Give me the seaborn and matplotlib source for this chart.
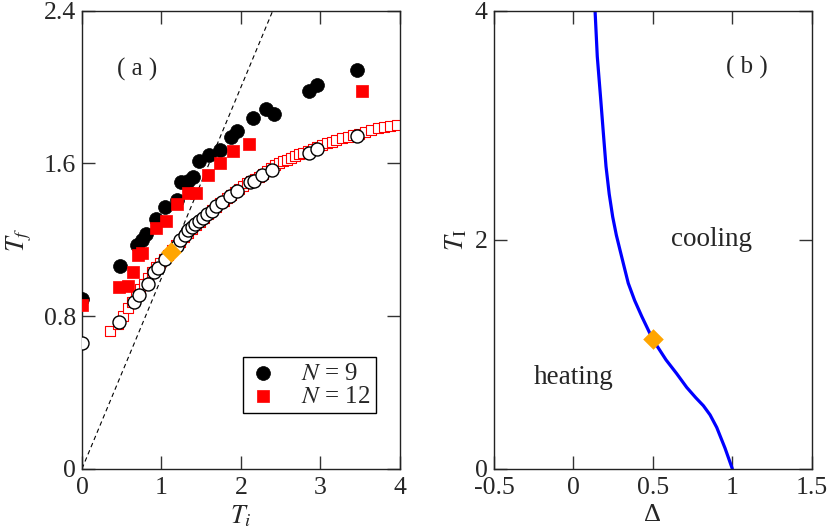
import matplotlib
matplotlib.use('Agg')
import matplotlib.pyplot as plt
import seaborn as sns

sns.set_theme(style='ticks')
plt.rcParams['font.family'] = ['Liberation Serif', 'DejaVu Serif']
plt.rcParams['mathtext.fontset'] = 'stix'
plt.rcParams['xtick.direction'] = 'in'
plt.rcParams['ytick.direction'] = 'in'
plt.rcParams['xtick.top'] = True
plt.rcParams['ytick.right'] = True
plt.rcParams['axes.linewidth'] = 1.0

# panel (a): final vs initial temperature
n9_ti = [0.0, 0.48, 0.69, 0.75, 0.81, 0.93, 1.04, 1.19, 1.25, 1.33, 1.40, 1.47, 1.60,
         1.73, 1.87, 1.95, 2.15, 2.32, 2.41, 2.85, 2.96, 3.46]
n9_tf = [0.89, 1.06, 1.17, 1.20, 1.23, 1.31, 1.37, 1.41, 1.50, 1.51, 1.53, 1.61, 1.645,
         1.67, 1.74, 1.77, 1.84, 1.885, 1.86, 1.98, 2.01, 2.09]

n12_ti = [0.0, 0.46, 0.58, 0.64, 0.71, 0.75, 0.93, 1.06, 1.19, 1.33, 1.44, 1.59, 1.74,
          1.90, 2.10, 3.52]
n12_tf = [0.86, 0.95, 0.955, 1.03, 1.12, 1.13, 1.26, 1.30, 1.385, 1.445, 1.445, 1.54,
          1.60, 1.665, 1.70, 1.98]

open_c_ti = [0.0, 0.47, 0.66, 0.72, 0.83, 0.91, 0.955, 1.04, 1.19, 1.23, 1.29, 1.33,
             1.38, 1.42, 1.47, 1.52, 1.57, 1.63, 1.69, 1.76, 1.86, 1.95, 2.11, 2.16,
             2.26, 2.39, 2.86, 2.96, 3.46]
open_c_tf = [0.66, 0.77, 0.875, 0.91, 0.97, 1.03, 1.05, 1.10, 1.165, 1.20, 1.225, 1.25,
             1.265, 1.28, 1.30, 1.315, 1.335, 1.35, 1.375, 1.395, 1.43, 1.455, 1.50,
             1.51, 1.54, 1.565, 1.655, 1.675, 1.745]

open_s_ti = [0.35, 0.45, 0.52, 0.58, 0.63, 0.68, 0.73, 0.78, 0.83, 0.88, 0.93, 0.98,
             1.03, 1.08, 1.13, 1.18, 1.23, 1.28, 1.33, 1.38, 1.43, 1.48, 1.53, 1.58,
             1.63, 1.68, 1.73, 1.78, 1.83, 1.88, 1.93, 1.98, 2.03, 2.08, 2.13, 2.18,
             2.23, 2.28, 2.33, 2.38, 2.43, 2.48, 2.53, 2.58, 2.63, 2.68, 2.73, 2.78,
             2.84, 2.90, 2.96, 3.02, 3.08, 3.14, 3.20, 3.27, 3.34, 3.41, 3.48, 3.56,
             3.64, 3.72, 3.80, 3.88, 3.96]
open_s_tf = [0.72, 0.76, 0.80, 0.84, 0.875, 0.905, 0.94, 0.97, 1.0, 1.03, 1.055, 1.08,
             1.10, 1.12, 1.145, 1.17, 1.19, 1.215, 1.235, 1.255, 1.275, 1.295, 1.315,
             1.335, 1.355, 1.37, 1.39, 1.405, 1.42, 1.435, 1.45, 1.465, 1.48, 1.495,
             1.505, 1.52, 1.53, 1.545, 1.56, 1.575, 1.59, 1.60, 1.61, 1.62, 1.63, 1.64,
             1.647, 1.655, 1.665, 1.675, 1.685, 1.695, 1.705, 1.713, 1.722, 1.731, 1.74,
             1.748, 1.756, 1.765, 1.774, 1.783, 1.79, 1.797, 1.803]

crit_ti = [1.12]
crit_tf = [1.135]

# panel (b): boundary between heating and cooling
delta = [0.136, 0.150, 0.172, 0.190, 0.205, 0.225, 0.247, 0.270, 0.293, 0.318, 0.345,
         0.385, 0.430, 0.499, 0.583, 0.650, 0.713, 0.770, 0.818, 0.860, 0.902, 0.954, 1.0]
t_I = [4.0, 3.6, 3.22, 2.90, 2.64, 2.40, 2.20, 2.04, 1.91, 1.77, 1.62, 1.47, 1.33, 1.13,
       0.95, 0.83, 0.71, 0.62, 0.55, 0.47, 0.36, 0.18, 0.0]
crit_delta = [0.5]
crit_T = [1.13]

fig = plt.figure(figsize=(8.3, 5.32), dpi=100)
ax1 = fig.add_axes([0.0988, 0.1190, 0.3831, 0.8609])
ax2 = fig.add_axes([0.5952, 0.1190, 0.3828, 0.8609])

ax1.axline((0, 0), slope=1, color='black', lw=0.8, ls=(0, (4, 3)), zorder=1)
sns.scatterplot(x=open_s_ti, y=open_s_tf, ax=ax1, marker='s', s=62,
                facecolor='white', edgecolor='red', linewidth=0.8, zorder=2)
sns.scatterplot(x=n9_ti, y=n9_tf, ax=ax1, marker='o', s=100, color='black',
                edgecolor='black', linewidth=0.5, zorder=3, label='$N$ = 9')
sns.scatterplot(x=n12_ti, y=n12_tf, ax=ax1, marker='s', s=78, color='red',
                edgecolor='red', linewidth=0.5, zorder=4, label='$N$ = 12')
sns.scatterplot(x=open_c_ti, y=open_c_tf, ax=ax1, marker='o', s=88,
                facecolor='white', edgecolor='black', linewidth=1.0, zorder=5)
sns.scatterplot(x=crit_ti, y=crit_tf, ax=ax1, marker='D', s=110, color='orange',
                edgecolor='orange', linewidth=0, zorder=6)

ax1.set_xlim(0, 4)
ax1.set_ylim(0, 2.4)
ax1.set_xticks([0, 1, 2, 3, 4])
ax1.set_yticks([0, 0.8, 1.6, 2.4])
ax1.set_yticklabels(['0', '0.8', '1.6', '2.4'])
ax1.set_xlabel('$T_i$', fontsize=19)
ax1.set_ylabel('$T_f$', fontsize=19)
ax1.xaxis.set_label_coords(0.5, -0.075)
ax1.yaxis.set_label_coords(-0.15, 0.5)
ax1.text(0.69, 2.09, '( a )', fontsize=18, ha='center', va='center')

leg = ax1.legend(loc='lower right', bbox_to_anchor=(0.924, 0.121), borderaxespad=0,
                 fontsize=18, frameon=True, fancybox=False, framealpha=1,
                 edgecolor='black', handlelength=1.2, handletextpad=0.9,
                 labelspacing=0.02, borderpad=0.22)
leg.get_frame().set_linewidth(1.0)

sns.lineplot(x=delta, y=t_I, ax=ax2, sort=False, color='blue', lw=2.3)
sns.scatterplot(x=crit_delta, y=crit_T, ax=ax2, marker='D', s=110, color='orange',
                edgecolor='orange', linewidth=0, zorder=6)
ax2.set_xlim(-0.5, 1.5)
ax2.set_ylim(0, 4)
ax2.set_xticks([-0.5, 0, 0.5, 1, 1.5])
ax2.set_xticklabels(['-0.5', '0', '0.5', '1', '1.5'])
ax2.set_yticks([0, 2, 4])
ax2.set_xlabel('Δ', fontsize=19)
ax2.set_ylabel(r'$T_{\rm I}$', fontsize=19)
ax2.xaxis.set_label_coords(0.5, -0.078)
ax2.yaxis.set_label_coords(-0.079, 0.5)
ax2.text(1.09, 3.5, '( b )', fontsize=18, ha='center', va='center')
ax2.text(0.87, 2.0, 'cooling', fontsize=19.5, ha='center', va='center')
ax2.text(0.0, 0.80, 'heating', fontsize=19.5, ha='center', va='center')

for ax in (ax1, ax2):
    ax.tick_params(labelsize=18.5, width=1.0, length=9.5, color='#333333')
    ax.tick_params(axis='x', pad=6)
    ax.tick_params(axis='y', pad=4.5)
    for sp in ax.spines.values():
        sp.set_color('#222222')
        sp.set_linewidth(1.0)

plt.savefig('out.png', dpi=100)
plt.close(fig)
